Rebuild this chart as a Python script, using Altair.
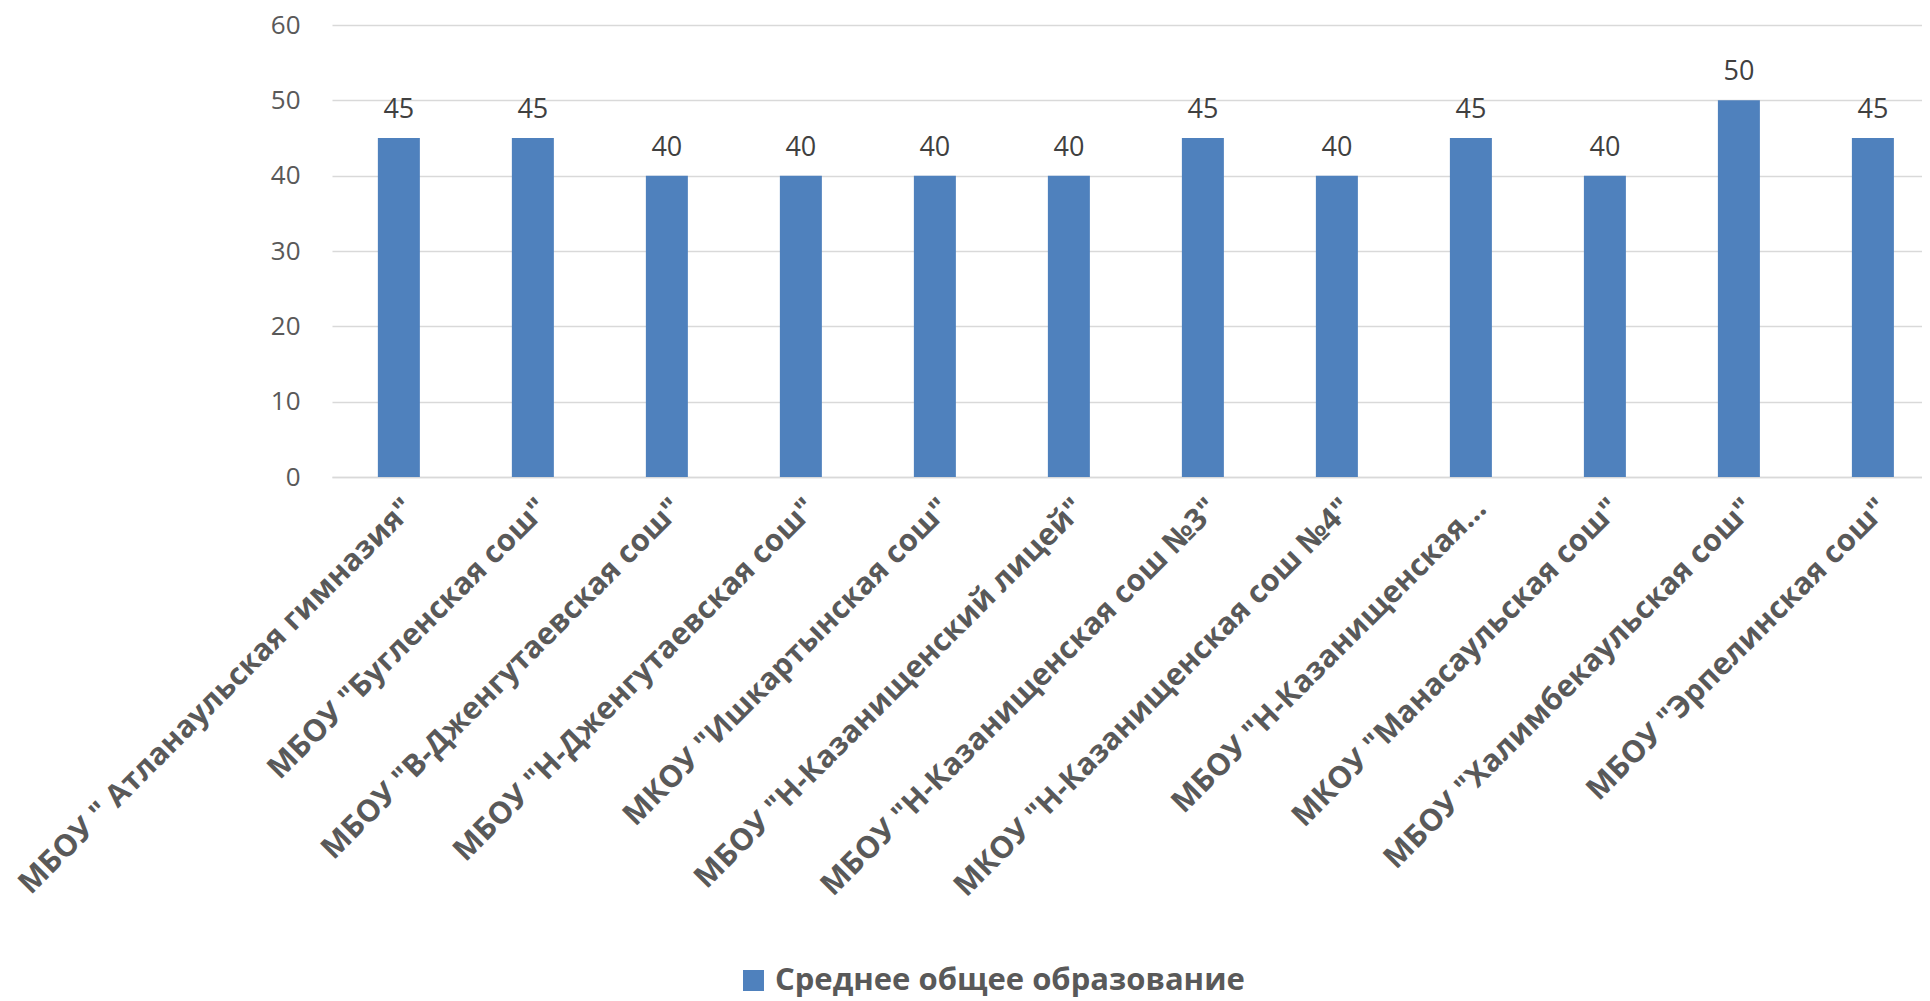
import altair as alt
import pandas as pd

schools = [
    'МБОУ " Атланаульская гимназия"',
    'МБОУ "Бугленская сош"',
    'МБОУ "В-Дженгутаевская сош"',
    'МБОУ "Н-Дженгутаевская сош"',
    'МКОУ "Ишкартынская сош"',
    'МБОУ "Н-Казанищенский лицей"',
    'МБОУ "Н-Казанищенская сош №3"',
    'МКОУ "Н-Казанищенская сош №4"',
    'МБОУ "Н-Казанищенская...',
    'МКОУ "Манасаульская сош"',
    'МБОУ "Халимбекаульская сош"',
    'МБОУ "Эрпелинская сош"',
]
values = [45, 45, 40, 40, 40, 40, 45, 40, 45, 40, 50, 45]
series_name = "Среднее общее образование"
y_ticks = [0, 10, 20, 30, 40, 50, 60]

df = pd.DataFrame({"school": schools, "value": values, "series": [series_name] * len(schools)})

x = alt.X(
    "school:N",
    sort=schools,
    title=None,
    scale=alt.Scale(paddingInner=0.6866, paddingOuter=0.276, align=0.62),
    axis=alt.Axis(
        labelAngle=315,
        labelFont="Open Sans",
        labelFontWeight="bold",
        labelFontSize=30.5,
        labelColor="#595959",
        labelPadding=16,
        labelLimit=1000,
        ticks=False,
        domainColor="#d9d9d9",
        domainWidth=1.5,
        grid=False,
    ),
)
y = alt.Y(
    "value:Q",
    title=None,
    scale=alt.Scale(domain=[0, 60], nice=False),
    axis=alt.Axis(
        values=y_ticks,
        labelFont="Open Sans",
        labelFontSize=26,
        labelColor="#595959",
        labelPadding=32,
        ticks=False,
        domain=False,
        gridColor="#d9d9d9",
        gridWidth=1.5,
    ),
)

bars = alt.Chart(df).mark_bar(size=42).encode(
    x=x,
    y=y,
    color=alt.Color(
        "series:N",
        scale=alt.Scale(range=["#4f81bd"]),
        legend=alt.Legend(
            title=None,
            orient="none",
            legendX=406,
            legendY=940,
            symbolType="square",
            symbolSize=440,
            symbolStrokeWidth=0,
            labelFont="Open Sans",
            labelFontWeight="bold",
            labelFontSize=31,
            labelColor="#595959",
            labelLimit=1000,
            labelOffset=6,
            padding=0,
        ),
    ),
)

labels = alt.Chart(df).mark_text(
    font="Open Sans", fontSize=27, color="#404040", baseline="bottom", dy=-14
).encode(x=alt.X("school:N", sort=schools), y="value:Q", text="value:Q")

chart = (
    alt.layer(bars, labels)
    .properties(
        width=1590,
        height=452,
        autosize=alt.AutoSizeParams(type="none"),
        padding={"left": 324, "top": 17, "right": 0, "bottom": 520},
    )
    .configure_view(stroke=None)
)

chart.save("out.html", embed_options={"renderer": "svg", "actions": False})
